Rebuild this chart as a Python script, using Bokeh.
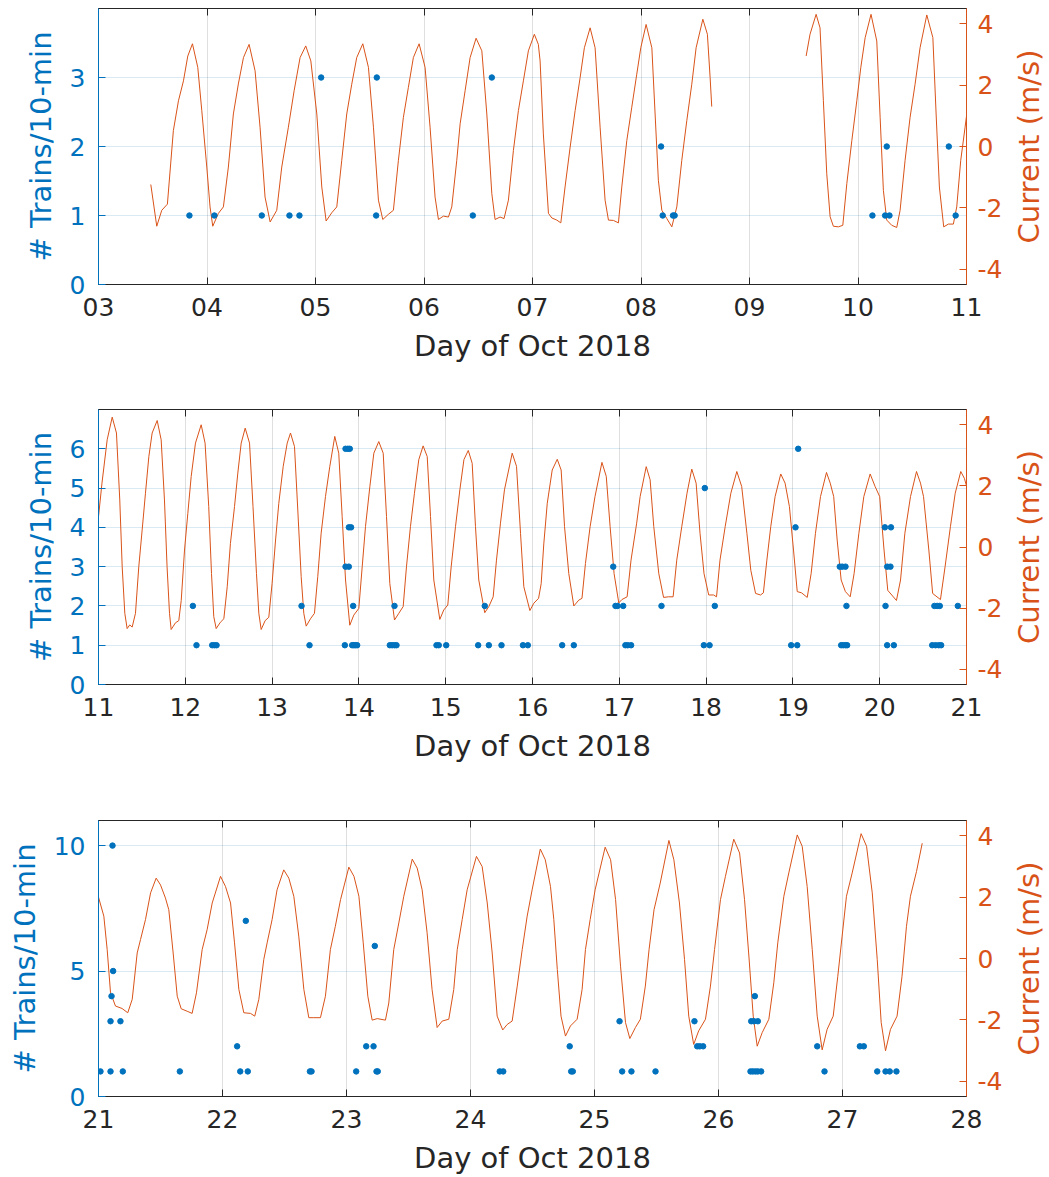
import math
import numpy as np
from bokeh.plotting import figure
from bokeh.models import Range1d, LinearAxis, FixedTicker, ColumnDataSource, Label
from bokeh.layouts import column, row
from bokeh.embed import file_html
from bokeh.resources import INLINE

# ---------------- data ----------------
# tidal current (m/s) vs day of Oct 2018 (NaN = gap in record)
cur_day = [
    3.482, 3.537, 3.583, 3.635, 3.69, 3.737, 3.783, 3.823, 3.866, 3.915, 3.952, 3.998, 4.028, 4.053,
    4.105, 4.151, 4.197, 4.243, 4.289, 4.336, 4.388, 4.443, 4.489, 4.535, 4.582, 4.643, 4.689, 4.75,
    4.803, 4.858, 4.91, 4.957, 5.012, 5.058, 5.098, 5.15, 5.196, 5.242, 5.288, 5.334, 5.38, 5.436,
    5.488, 5.534, 5.58, 5.62, 5.672, 5.718, 5.764, 5.81, 5.856, 5.902, 5.955, 6.01, 6.056, 6.102,
    6.133, 6.179, 6.225, 6.256, 6.302, 6.333, 6.379, 6.425, 6.48, 6.533, 6.579, 6.625, 6.655, 6.701,
    6.738, 6.778, 6.824, 6.87, 6.916, 6.962, 7.017, 7.054, 7.07, 7.10, 7.147, 7.178, 7.224, 7.261,
    7.30, 7.347, 7.393, 7.439, 7.478, 7.531, 7.577, 7.623, 7.669, 7.70, 7.746, 7.792, 7.823, 7.869,
    7.915, 7.961, 7.998, 8.047, 8.10, 8.13, 8.16, 8.192, 8.238, 8.284, 8.33, 8.376, 8.422, 8.468,
    8.508, 8.57, 8.612, 8.637, 8.652,
    9.0,
    9.522, 9.558, 9.614, 9.65, 9.681, 9.712, 9.743, 9.773, 9.819, 9.86, 9.897, 9.943, 9.989, 10.026,
    10.066, 10.12, 10.173, 10.204, 10.234, 10.265, 10.311, 10.357, 10.388, 10.434, 10.48, 10.526,
    10.572, 10.634, 10.69, 10.72, 10.75, 10.79, 10.833, 10.879, 10.91, 10.947, 10.987,
    11.0, 11.04, 11.10, 11.158, 11.207, 11.245, 11.273, 11.303, 11.33, 11.36, 11.388, 11.426, 11.464,
    11.503, 11.541, 11.58, 11.618, 11.676, 11.722, 11.76, 11.79, 11.818, 11.837, 11.887, 11.925,
    11.953, 11.991, 12.029, 12.068, 12.117, 12.183, 12.228, 12.27, 12.302, 12.328, 12.356, 12.405,
    12.444, 12.483, 12.52, 12.567, 12.605, 12.644, 12.69, 12.74, 12.78, 12.82, 12.847, 12.874, 12.92,
    12.962, 13.0, 13.04, 13.077, 13.128, 13.174, 13.212, 13.258, 13.296, 13.335, 13.365, 13.393,
    13.442, 13.488, 13.526, 13.565, 13.615, 13.665, 13.722, 13.768, 13.807, 13.846, 13.895, 13.941,
    13.999, 14.038, 14.076, 14.126, 14.172, 14.229, 14.28, 14.318, 14.356, 14.41, 14.46, 14.51,
    14.548, 14.594, 14.64, 14.69, 14.74, 14.787, 14.825, 14.863, 14.932, 14.978, 15.024, 15.063,
    15.113, 15.163, 15.21, 15.26, 15.305, 15.343, 15.381, 15.45, 15.497, 15.547, 15.585, 15.631,
    15.677, 15.766, 15.816, 15.862, 15.90, 15.97, 16.015, 16.07, 16.10, 16.13, 16.17, 16.227, 16.285,
    16.33, 16.369, 16.418, 16.476, 16.533, 16.57, 16.61, 16.664, 16.72, 16.80, 16.85, 16.894, 16.94,
    16.994, 17.03, 17.09, 17.135, 17.20, 17.24, 17.31, 17.355, 17.397, 17.455, 17.51, 17.567, 17.62,
    17.662, 17.72, 17.78, 17.835, 17.885, 17.93, 17.976, 18.03, 18.086, 18.12, 18.16, 18.22, 18.285,
    18.354, 18.41, 18.47, 18.515, 18.57, 18.627, 18.66, 18.70, 18.745, 18.795, 18.86, 18.91, 18.96,
    19.007, 19.05, 19.10, 19.165, 19.21, 19.26, 19.318, 19.387, 19.43, 19.47, 19.51, 19.556, 19.605,
    19.66, 19.705, 19.76, 19.817, 19.89, 19.947, 20.0, 20.047, 20.093, 20.193, 20.24, 20.29, 20.355,
    20.424, 20.47, 20.505, 20.566, 20.61, 20.70, 20.753, 20.815, 20.87, 20.934, 20.975,
    21.0, 21.043, 21.07, 21.097, 21.137, 21.19, 21.236, 21.272, 21.312, 21.339, 21.379, 21.42,
    21.465, 21.50, 21.54, 21.567, 21.602, 21.635, 21.667, 21.715, 21.755, 21.79, 21.836, 21.876,
    21.917, 21.984, 22.024, 22.065, 22.097, 22.132, 22.172, 22.226, 22.26, 22.293, 22.333, 22.36,
    22.40, 22.44, 22.494, 22.535, 22.575, 22.615, 22.656, 22.696, 22.736, 22.79, 22.83, 22.87, 22.91,
    22.952, 23.019, 23.06, 23.10, 23.135, 23.172, 23.207, 23.248, 23.314, 23.341, 23.381, 23.422,
    23.462, 23.53, 23.57, 23.61, 23.65, 23.69, 23.731, 23.772, 23.825, 23.865, 23.893, 23.933,
    23.973, 24.048, 24.094, 24.135, 24.175, 24.215, 24.26, 24.296, 24.336, 24.377, 24.417, 24.457,
    24.497, 24.563, 24.603, 24.645, 24.672, 24.70, 24.73, 24.766, 24.806, 24.86, 24.90, 24.927,
    24.965, 25.005, 25.086, 25.13, 25.17, 25.21, 25.25, 25.285, 25.33, 25.37, 25.41, 25.44, 25.48,
    25.53, 25.60, 25.64, 25.685, 25.726, 25.76, 25.80, 25.84, 25.895, 25.935, 25.968, 26.016, 26.056,
    26.123, 26.17, 26.21, 26.245, 26.28, 26.312, 26.352, 26.406, 26.446, 26.478, 26.527, 26.567,
    26.635, 26.675, 26.715, 26.756, 26.796, 26.836, 26.876, 26.925, 26.962, 26.997, 27.032, 27.078,
    27.15, 27.194, 27.24, 27.28, 27.312, 27.347, 27.387, 27.44, 27.48, 27.516, 27.548, 27.597, 27.643,
]
cur_ms = [
    -1.24, -2.60, -2.08, -1.88, 0.52, 1.49, 2.14, 2.95, 3.35, 2.58, 1.17, -0.67, -1.97, -2.60,
    -2.18, -1.97, -0.67, 1.06, 2.04, 2.90, 3.33, 2.47, 0.63, -1.65, -2.46, -2.08, -0.67, 0.63,
    1.82, 2.90, 3.28, 2.79, 1.06, -1.32, -2.43, -2.16, -1.97, -0.45, 1.06, 2.03, 2.90, 3.35,
    2.58, 0.63, -1.75, -2.38, -2.21, -2.08, -0.45, 0.95, 1.93, 2.90, 3.35, 2.58, 0.63, -1.65,
    -2.38, -2.27, -2.30, -1.97, -0.45, 0.74, 1.82, 2.90, 3.53, 3.12, 1.06, -1.54, -2.38, -2.30,
    -2.35, -1.75, -0.13, 1.17, 2.14, 3.12, 3.66, 3.33, 2.79, 0.41, -2.18, -2.33, -2.40, -2.49,
    -1.32, -0.02, 1.17, 2.25, 3.22, 3.87, 3.22, 0.63, -1.75, -2.40, -2.41, -2.49, -1.32, 0.19,
    1.28, 2.36, 3.22, 3.98, 3.22, 1.06, -1.10, -2.08, -2.35, -2.62, -1.97, -0.45, 0.84, 2.03,
    3.22, 4.15, 3.66, 2.25, 1.30,
    float("nan"),
    2.95, 3.66, 4.31, 3.87, 1.49, -0.89, -2.29, -2.60, -2.62, -2.57, -1.21, 0.19, 1.49, 2.58,
    3.55, 4.31, 3.44, 0.95, -1.43, -2.40, -2.57, -2.64, -2.08, -0.45, 0.95, 2.03,
    3.22, 4.29, 3.55, 1.06, -1.32, -2.62, -2.53, -2.53, -1.97, -0.45, 0.63,
    0.99, 2.09, 3.51, 4.25, 3.73, 1.54, -0.65, -2.17, -2.67, -2.55, -2.62, -2.17, -0.65,
    0.56, 1.76, 2.96, 3.73, 4.14, 3.51, 1.54, -0.65, -2.17, -2.70, -2.48, -2.41,
    -1.75, -0.10, 1.10, 2.31, 3.40, 4.00, 3.40, 1.32, -0.87, -2.28, -2.67, -2.46,
    -2.35, -1.30, 0.12, 1.32, 2.42, 3.40, 3.89, 3.40, 1.32, -0.87, -2.17, -2.70, -2.41,
    -2.30, -1.19, 0.23, 1.43, 2.64, 3.40, 3.73, 3.29, 1.21, -0.97, -2.17, -2.59,
    -2.35, -2.17, -0.97, 0.45, 1.65, 2.64, 3.62, 3.07, 1.00, -1.08, -2.56, -2.23,
    -2.01, -0.65, 0.67, 1.97, 3.07, 3.45, 3.07, 1.00, -1.19, -2.39, -2.17, -1.95,
    -0.65, 0.67, 1.76, 2.86, 3.31, 2.96, 1.00, -1.08, -2.37, -2.06, -1.90, -0.65,
    0.67, 1.87, 2.86, 3.16, 2.74, 0.67, -1.08, -2.15, -1.95, -1.63, -0.43, 0.78,
    1.87, 3.07, 2.64, 0.45, -1.30, -2.08, -1.84, -1.68, -1.20, 0.10, 1.43, 2.52, 2.87,
    2.52, 0.67, -0.87, -1.93, -1.74, -1.68, -0.54, 0.67, 1.65, 2.77, 2.31, 0.67, -0.87,
    -1.83, -1.72, -1.63, -0.43, 0.78, 1.65, 2.63, 2.20, 0.67, -0.87, -1.65, -1.63, -1.63,
    -0.43, 0.67, 1.76, 2.55, 2.09, 0.45, -0.87, -1.57, -1.57, -1.63, -0.43, 0.67, 1.76,
    2.47, 1.98, 0.45, -0.76, -1.52, -1.57, -1.50, -0.43, 0.67, 1.65, 2.39, 2.09, 1.32,
    -0.10, -1.46, -1.50, -1.65, -0.87, 0.45, 1.65, 2.44, 2.09, 1.65, 0.23, -1.08, -1.46,
    -1.63, -0.87, 0.45, 1.65, 2.39, 1.98, 1.65, 0.00, -1.42, -1.75, -1.08, 0.45, 1.65,
    2.47, 2.09, 1.65, -0.10, -1.52, -1.72, -0.65, 0.67, 1.76, 2.47, 2.25,
    2.00, 1.38, 0.29, -1.12, -1.55, -1.63, -1.77, -1.33, 0.18, 0.62, 1.27, 2.14,
    2.62, 2.40, 1.97, 1.59, 0.18, -1.23, -1.64, -1.72, -1.79, -1.12, 0.29, 0.94,
    1.81, 2.68, 2.35, 1.81, 0.51, -1.01, -1.77, -1.79, -1.88, -1.33, -0.03, 0.51,
    1.27, 2.24, 2.89, 2.62, 2.03, 0.73, -1.01, -1.93, -1.93, -1.93, -1.23, 0.29, 1.05,
    1.92, 2.98, 2.68, 2.03, 0.51, -1.23, -2.01, -1.96, -2.01, -1.45, 0.29, 1.16,
    2.03, 3.24, 2.95, 2.24, 0.84, -1.01, -2.25, -2.04, -1.98, -1.01, 0.29, 1.27,
    2.24, 3.33, 3.00, 1.81, 0.18, -1.88, -2.33, -2.15, -2.04, -0.90, 0.29, 1.38,
    2.24, 3.57, 3.22, 2.35, 1.27, -0.36, -1.88, -2.53, -2.20, -1.98, -1.01, 0.29,
    1.27, 2.24, 3.63, 3.22, 1.92, -0.25, -2.09, -2.61, -2.25, -1.98, -0.90, 0.29, 1.59,
    2.46, 3.85, 3.22, 1.81, -0.03, -1.88, -2.80, -2.36, -1.98, -0.90, 0.29, 1.92, 2.68,
    3.89, 3.44, 1.92, 0.08, -1.88, -2.86, -2.42, -1.98, -0.79, 0.51, 2.03, 2.79,
    4.03, 3.66, 2.35, 0.29, -1.88, -2.98, -2.31, -1.88, -0.58, 0.73, 2.03, 2.79,
    4.07, 3.66, 2.14, -0.03, -2.09, -3.01, -2.31, -1.88, -0.58, 1.05, 2.03, 2.84, 3.76,
]

# number of trains per 10-min window
train_day = [
    3.838, 4.068, 4.505, 4.76, 4.852, 5.052, 5.559, 5.565, 6.45, 6.625, 8.185, 8.2, 8.295, 8.31,
    10.133, 10.25, 10.265, 10.29, 10.837, 10.9,
    12.087, 12.129, 12.31, 12.336, 12.36, 13.339, 13.431, 13.838, 13.846, 13.846, 13.873, 13.884,
    13.884, 13.895, 13.91, 13.922, 13.934, 13.941, 13.96, 13.98, 14.356, 14.383, 14.41, 14.41,
    14.433, 14.894, 14.92, 15.006, 15.374, 15.45, 15.497, 15.643, 15.89, 15.946, 16.342, 16.476,
    16.93, 16.956, 16.98, 17.045, 17.07, 17.097, 17.136, 17.486, 17.974, 17.985, 18.04, 18.1,
    18.98, 19.03, 19.05, 19.061, 19.54, 19.556, 19.568, 19.58, 19.606, 19.606, 19.617, 19.625,
    20.06, 20.067, 20.086, 20.086, 20.124, 20.13, 20.163, 20.605, 20.63, 20.643, 20.662, 20.68,
    20.692, 20.708, 20.9,
    21.016, 21.097, 21.097, 21.105, 21.113, 21.118, 21.177, 21.196, 21.656, 22.118, 22.143,
    22.188, 22.204, 22.705, 22.718, 23.078, 23.159, 23.218, 23.228, 23.242, 23.252, 24.236,
    24.264, 24.8, 24.812, 24.825, 25.202, 25.223, 25.298, 25.492, 25.806, 25.828, 25.849, 25.876,
    26.258, 26.264, 26.277, 26.285, 26.293, 26.298, 26.317, 26.317, 26.344, 26.796, 26.855,
    27.14, 27.172, 27.28, 27.347, 27.381, 27.435,
]
train_count = [
    1, 1, 1, 1, 1, 3, 1, 3, 1, 3, 2, 1, 1, 1,
    1, 1, 2, 1, 2, 1,
    2, 1, 1, 1, 1, 2, 1, 1, 6, 3, 6, 4,
    3, 6, 4, 1, 2, 1, 1, 1, 1, 1, 2, 1,
    1, 1, 1, 1, 1, 2, 1, 1, 1, 1, 1, 1,
    3, 2, 2, 2, 1, 1, 1, 2, 1, 5, 1, 2,
    1, 4, 1, 6, 3, 1, 3, 1, 3, 1, 2, 1,
    4, 2, 3, 1, 3, 4, 1, 1, 2, 1, 2, 1,
    2, 1, 2,
    1, 1, 3, 4, 10, 5, 3, 1, 1, 2, 1,
    7, 1, 1, 1, 1, 2, 2, 6, 1, 1, 1,
    1, 2, 1, 1, 3, 1, 1, 1, 3, 2, 2, 2,
    1, 3, 1, 3, 4, 1, 3, 1, 1, 2, 1,
    2, 2, 1, 1, 1, 1,
]

# panel definitions: x range (days), left y max, ticks and tick labels
panel_xrange = [(3, 11), (11, 21), (21, 28)]
panel_xticks = [list(range(3, 12)), list(range(11, 22)), list(range(21, 29))]
panel_xticklabels = [
    ["03", "04", "05", "06", "07", "08", "09", "10", "11"],
    ["11", "12", "13", "14", "15", "16", "17", "18", "19", "20", "21"],
    ["21", "22", "23", "24", "25", "26", "27", "28"],
]
panel_ymax = [4, 7, 11]
panel_yticks = [[0, 1, 2, 3], [0, 1, 2, 3, 4, 5, 6], [0, 5, 10]]
cur_range = (-4.5, 4.5)
cur_ticks = [-4, -2, 0, 2, 4]
cur_ticklabels = ["-4", "-2", "0", "2", "4"]
x_label = "Day of Oct 2018"
yl_label = "# Trains/10-min"
yr_label = "Current (m/s)"

# ---------------- style ----------------
BLUE = "#0072BD"
ORANGE = "#D95319"
DARK = "#262626"
FONT = "DejaVu Sans"
TICK_FS = "25px"
LABEL_FS = "29px"

MAIN_W = 1010      # main figure width (frame spans x = 98 .. 966)
SIDE_W = 1049 - MAIN_W   # strip that carries the right-hand axis title

# figure geometry: (height, border_top, border_bottom)
geom = [(401, 8, 117), (411, 8, 128), (365, 8, 81)]

line_src = ColumnDataSource(dict(x=np.array(cur_day, dtype=float), y=np.array(cur_ms, dtype=float)))
td = np.array(train_day, dtype=float)
tc = np.array(train_count, dtype=float)


def style_axis(ax, color, label_color, tick_color):
    ax.axis_line_color = color
    ax.axis_line_width = 1
    ax.major_tick_line_color = tick_color
    ax.major_tick_in = 7
    ax.major_tick_out = 0
    ax.minor_tick_line_color = None
    ax.major_label_text_font = FONT
    ax.major_label_text_font_size = TICK_FS
    ax.major_label_text_color = label_color
    ax.axis_label_text_font = FONT
    ax.axis_label_text_font_size = LABEL_FS
    ax.axis_label_text_font_style = "normal"
    ax.axis_label_text_color = label_color


rows = []
for i in range(3):
    h, bt, bb = geom[i]
    x0, x1 = panel_xrange[i]
    p = figure(
        width=MAIN_W, height=h,
        x_range=Range1d(x0, x1), y_range=Range1d(0, panel_ymax[i]),
        output_backend="svg", toolbar_location=None,
        min_border_left=98, min_border_right=MAIN_W - 966,
        min_border_top=bt, min_border_bottom=bb,
        background_fill_color="white", border_fill_color="white",
    )
    p.extra_y_ranges = {"cur": Range1d(*cur_range)}
    p.outline_line_color = DARK
    p.outline_line_width = 1

    xt = FixedTicker(ticks=panel_xticks[i])
    yt = FixedTicker(ticks=panel_yticks[i])

    xa = p.xaxis[0]
    xa.ticker = xt
    xa.major_label_overrides = {t: s for t, s in zip(panel_xticks[i], panel_xticklabels[i])}
    xa.axis_label = x_label
    style_axis(xa, DARK, DARK, DARK)
    xa.major_label_standoff = 13
    xa.axis_label_standoff = 10

    ya = p.yaxis[0]
    ya.ticker = yt
    ya.axis_label = yl_label
    style_axis(ya, BLUE, BLUE, BLUE)
    ya.major_label_standoff = 13
    ya.axis_label_standoff = 9

    ra = LinearAxis(y_range_name="cur", ticker=FixedTicker(ticks=cur_ticks))
    ra.major_label_overrides = {t: s for t, s in zip(cur_ticks, cur_ticklabels)}
    style_axis(ra, ORANGE, ORANGE, ORANGE)
    ra.major_label_standoff = 11
    p.add_layout(ra, "right")

    ta = LinearAxis(ticker=xt)
    style_axis(ta, DARK, DARK, DARK)
    ta.major_label_overrides = {t: "" for t in panel_xticks[i]}
    ta.major_label_text_font_size = "1px"
    ta.major_label_standoff = 0
    p.add_layout(ta, "above")

    p.xgrid.ticker = xt
    p.xgrid.grid_line_color = DARK
    p.xgrid.grid_line_alpha = 0.15
    p.ygrid.ticker = yt
    p.ygrid.grid_line_color = BLUE
    p.ygrid.grid_line_alpha = 0.15

    p.line("x", "y", source=line_src, y_range_name="cur", line_color=ORANGE, line_width=1)
    m = (td >= x0) & (td <= x1)
    dot_src = ColumnDataSource(dict(x=td[m], y=tc[m]))
    p.scatter("x", "y", source=dot_src, size=5.5, fill_color=BLUE, line_color=BLUE)

    # narrow strip holding the right-hand axis title (reads bottom-to-top)
    s = figure(
        width=SIDE_W, height=h,
        x_range=Range1d(0, 1), y_range=Range1d(*cur_range),
        output_backend="svg", toolbar_location=None,
        x_axis_location=None, y_axis_location=None,
        min_border_left=0, min_border_right=0,
        min_border_top=bt, min_border_bottom=bb,
        background_fill_color="white", border_fill_color="white",
        outline_line_color=None,
    )
    s.xgrid.visible = False
    s.ygrid.visible = False
    s.add_layout(Label(
        x=0.5, y=(cur_range[0] + cur_range[1]) / 2, x_offset=-1,
        text=yr_label, angle=math.pi / 2,
        text_align="center", text_baseline="middle",
        text_font=FONT, text_font_size=LABEL_FS, text_color=ORANGE,
    ))
    rows.append(row(p, s, spacing=0))

layout = column(*rows, spacing=0)
open("out.html", "w").write(file_html(layout, INLINE))
